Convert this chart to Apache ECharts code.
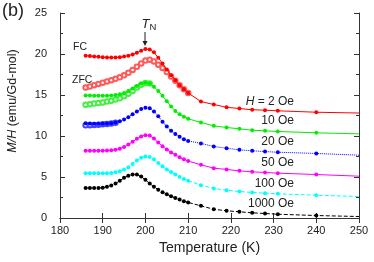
<!DOCTYPE html>
<html><head><meta charset="utf-8">
<script src="https://cdn.jsdelivr.net/npm/echarts@6/dist/echarts.min.js"></script>
<style>html,body{margin:0;padding:0;background:#fff}#c{width:374px;height:262px}</style>
</head><body><div id="c"></div>
<script>
// Temperatures (K)
const tempLow = [186,187,188,189,190,191,192,193,194,195,196,197,198,199,200,201,202,203,204,205,206,207,208,209,210];
const tempHigh = [213,216,219,222,225,228,231,240];
const tempFitEnd = 250;

// FC data, low-T part (186..210)
const fc2 = [19.8,19.75,19.7,19.65,19.6,19.58,19.57,19.57,19.6,19.68,19.8,19.95,20.15,20.4,20.6,20.55,20.2,19.55,18.85,18.1,17.4,16.8,16.2,15.7,15.25];
const fc10 = [14.95,14.93,14.91,14.9,14.9,14.92,14.95,15.0,15.1,15.25,15.5,15.8,16.1,16.4,16.5,16.4,16.0,15.5,14.9,14.25,13.6,13.05,12.65,12.35,12.1];
const fc20 = [11.55,11.52,11.5,11.5,11.5,11.52,11.57,11.65,11.8,12.0,12.3,12.65,13.0,13.3,13.45,13.38,13.0,12.4,11.75,11.15,10.65,10.25,9.9,9.6,9.4];
const fc50 = [8.2,8.2,8.2,8.2,8.2,8.22,8.25,8.32,8.45,8.65,8.95,9.3,9.65,9.95,10.1,10.05,9.7,9.2,8.75,8.35,8.0,7.7,7.4,7.15,6.95];
const fc100 = [5.45,5.45,5.45,5.45,5.45,5.47,5.5,5.57,5.7,5.9,6.2,6.6,7.0,7.35,7.5,7.45,7.15,6.7,6.3,5.9,5.6,5.3,5.0,4.75,4.55];
const fc1000 = [3.65,3.65,3.65,3.65,3.7,3.8,3.95,4.2,4.55,4.9,5.15,5.3,5.3,5.05,4.65,4.2,3.8,3.45,3.15,2.9,2.65,2.45,2.25,2.05,1.9];

// high-T part (213..240)
const hi2 = [14.2,13.84,13.5,13.35,13.2,13.15,13.07,12.9];
const hi10 = [11.65,11.24,11.04,10.87,10.71,10.63,10.55,10.39];
const hi20 = [9.1,8.72,8.51,8.31,8.19,8.1,8.02,7.87];
const hi50 = [6.49,6.08,5.92,5.75,5.63,5.55,5.47,5.3];
const hi100 = [4.0,3.6,3.39,3.23,3.11,3.03,2.95,2.78];
const hi1000 = [1.48,1.07,0.88,0.76,0.63,0.55,0.46,0.3];

// fit line value at 250 K
const fitEnd = [12.8,10.26,7.66,5.1,2.62,0.18];

// ZFC data (from 186 K)
const zfc2 = [15.9,16.05,16.2,16.35,16.5,16.65,16.8,16.97,17.15,17.4,17.7,18.05,18.45,18.85,19.2,19.3,19.1,18.7,18.3,17.8,17.25,16.75,16.2,15.7,15.25];
const zfc10 = [13.8,13.88,13.95,14.02,14.1,14.2,14.3,14.45,14.6,14.85,15.15,15.5,15.9,16.25,16.45,16.4];
const zfc20 = [11.3,11.32,11.35,11.38,11.42,11.47,11.53,11.62];

const fieldLabels = ['2 Oe','10 Oe','20 Oe','50 Oe','100 Oe','1000 Oe'];
const xTicks = {min:180, max:250, step:10};
const yTicks = {min:0, max:25, step:5};

const colors = ['#ff0000','#00ee00','#0000ff','#ff00ff','#00ffff','#000000'];
const zfcColors = ['#ff5a5a','#44ee44','#4444ff'];
const lineTypes = ['solid','solid','dotted','solid','dashed','dashed'];
const fcLow = [fc2,fc10,fc20,fc50,fc100,fc1000];
const fcHigh = [hi2,hi10,hi20,hi50,hi100,hi1000];
const zfcs = [zfc2,zfc10,zfc20];

const series = [];
zfcs.forEach((z,i)=>{
  series.push({
    type:'line', name:'ZFC '+fieldLabels[i], symbol:'emptyCircle', symbolSize:4.5, showAllSymbol:true,
    z:2,
    itemStyle:{color:zfcColors[i], borderWidth:1},
    lineStyle:{color:zfcColors[i], width:0.8, opacity:0.6},
    data: z.map((v,k)=>[tempLow[k], v]),
    animation:false
  });
});
fcLow.forEach((lo,i)=>{
  const d = lo.map((v,k)=>[tempLow[k], v]).concat(fcHigh[i].map((v,k)=>[tempHigh[k], v]));
  d.push({value:[tempFitEnd, fitEnd[i]], symbol:'none'});
  series.push({
    type:'line', name:'FC '+fieldLabels[i], symbol:'circle', symbolSize:4, showAllSymbol:true,
    z:3,
    itemStyle:{color:colors[i]},
    lineStyle:{color:colors[i], width:1, type:lineTypes[i]},
    data:d, animation:false
  });
});

const font = 'Liberation Sans, Arial, Helvetica, sans-serif';
const axisCommon = {
  type:'value', min:xTicks.min, max:xTicks.max, interval:xTicks.step,
  axisLine:{show:true, lineStyle:{color:'#333', width:1}},
  axisTick:{show:true, inside:true, length:5, lineStyle:{color:'#333'}},
  splitLine:{show:false}
};
const yCommon = {
  type:'value', min:yTicks.min, max:yTicks.max, interval:yTicks.step,
  axisLine:{show:true, lineStyle:{color:'#333', width:1}},
  axisTick:{show:true, inside:true, length:5, lineStyle:{color:'#333'}},
  minorTick:{show:true, splitNumber:2, length:3, lineStyle:{color:'#333'}},
  splitLine:{show:false}, minorSplitLine:{show:false}
};

const chart = echarts.init(document.getElementById('c'), null, {renderer:'canvas'});
chart.setOption({
  backgroundColor:'#fff',
  animation:false,
  textStyle:{fontFamily:font},
  grid:{left:60, right:15, top:13, bottom:44},
  xAxis:[
    Object.assign({}, axisCommon, {position:'bottom',
      axisLabel:{show:true, margin:7, fontSize:11, color:'#222', fontFamily:font},
      name:'Temperature (K)', nameLocation:'middle', nameGap:18,
      nameTextStyle:{fontSize:14, color:'#222', fontFamily:font, verticalAlign:'top'}}),
    Object.assign({}, axisCommon, {position:'top', axisLabel:{show:false}})
  ],
  yAxis:[
    Object.assign({}, yCommon, {position:'left',
      axisLabel:{show:true, margin:13, fontSize:11, color:'#222', fontFamily:font}}),
    Object.assign({}, yCommon, {position:'right', axisLabel:{show:false}})
  ],
  series: series,
  graphic:[
    {type:'text', left:2, top:2, style:{text:'(b)', fontSize:18, fill:'#222', fontFamily:font}},
    {type:'text', x:12.5, y:101, rotation:Math.PI/2, style:{text:'{i|M/H} (emu/Gd-mol)', fontSize:12.5, fill:'#222', fontFamily:font, align:'center', verticalAlign:'middle',
      rich:{i:{fontStyle:'italic', fontSize:12.5, fill:'#222', fontFamily:font}}}},
    {type:'text', x:73, y:47, style:{text:'FC', fontSize:10.5, fill:'#222', fontFamily:font, verticalAlign:'middle'}},
    {type:'text', x:72, y:80, style:{text:'ZFC', fontSize:10.5, fill:'#222', fontFamily:font, verticalAlign:'middle'}},
    {type:'text', x:141.5, y:24, style:{text:'{i|T}{s|N}', fill:'#222', fontFamily:font, verticalAlign:'middle',
      rich:{i:{fontStyle:'italic', fontSize:13, fontFamily:font, fill:'#222'}, s:{fontSize:9.5, fontFamily:font, fill:'#222', padding:[7,0,0,0]}}}},
    {type:'line', shape:{x1:145, y1:32, x2:145, y2:43}, style:{stroke:'#222', lineWidth:1}},
    {type:'polygon', shape:{points:[[142.5,41],[147.5,41],[145,46]]}, style:{fill:'#222'}},
    {type:'text', x:294, y:101.5, style:{text:'{i|H} = 2 Oe', fontSize:12, fill:'#222', fontFamily:font, align:'right', verticalAlign:'middle', rich:{i:{fontStyle:'italic', fontSize:12, fontFamily:font, fill:'#222'}}}},
    {type:'text', x:294, y:121, style:{text:fieldLabels[1], fontSize:12, fill:'#222', fontFamily:font, align:'right', verticalAlign:'middle'}},
    {type:'text', x:294, y:142, style:{text:fieldLabels[2], fontSize:12, fill:'#222', fontFamily:font, align:'right', verticalAlign:'middle'}},
    {type:'text', x:294, y:162.5, style:{text:fieldLabels[3], fontSize:12, fill:'#222', fontFamily:font, align:'right', verticalAlign:'middle'}},
    {type:'text', x:294, y:183.5, style:{text:fieldLabels[4], fontSize:12, fill:'#222', fontFamily:font, align:'right', verticalAlign:'middle'}},
    {type:'text', x:294, y:204, style:{text:fieldLabels[5], fontSize:12, fill:'#222', fontFamily:font, align:'right', verticalAlign:'middle'}}
  ]
});
</script></body></html>
